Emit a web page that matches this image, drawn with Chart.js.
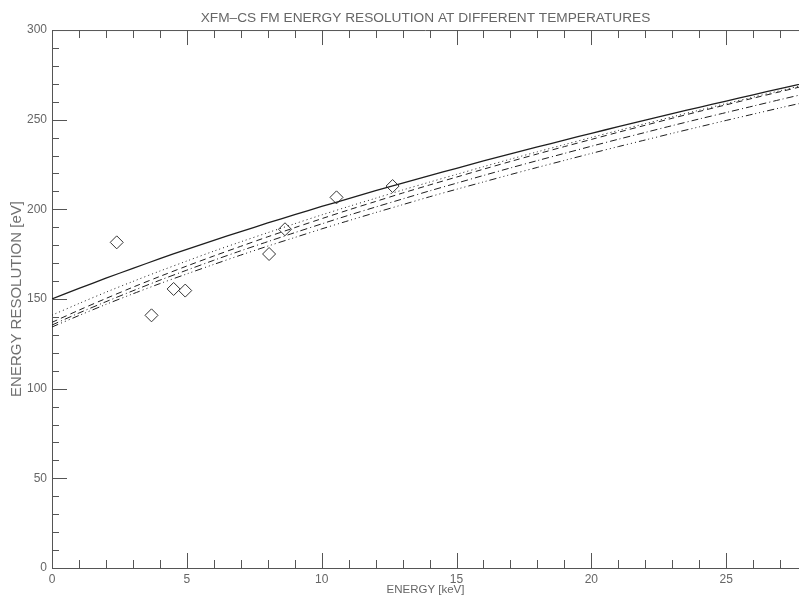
<!DOCTYPE html>
<html>
<head>
<meta charset="utf-8">
<script src="https://cdn.jsdelivr.net/npm/chart.js@4.4.1/dist/chart.umd.min.js"></script>
<style>
html,body{margin:0;padding:0;background:#fff;}
#wrap{width:799px;height:600px;}
</style>
</head>
<body>
<div id="wrap"><canvas id="c" width="799" height="600"></canvas></div>
<script>
// ---- data ----
const titleText = "XFM\u2013CS FM ENERGY RESOLUTION AT DIFFERENT TEMPERATURES";
const xTitle = "ENERGY [keV]";
const yTitle = "ENERGY RESOLUTION [eV]";

const energyGrid = [0,1,2,3,4,5,6,7,8,9,10,11,12,13,14,15,16,17,18,19,20,21,22,23,24,25,26,27,28];
const solidCurve   = [150.0,155.9,161.6,167.1,172.5,177.7,182.7,187.6,192.4,197.0,201.6,206.0,210.4,214.6,218.8,222.9,227.0,230.9,234.8,238.6,242.4,246.1,249.8,253.4,256.9,260.4,263.9,267.3,270.7];
const dottedCurve  = [141.0,147.5,153.8,159.8,165.6,171.2,176.7,181.9,187.0,192.0,196.9,201.6,206.2,210.8,215.2,219.5,223.8,228.0,232.1,236.1,240.1,244.0,247.8,251.6,255.3,259.0,262.6,266.2,269.7];
const dashedCurve  = [137.0,143.8,150.3,156.6,162.6,168.4,174.0,179.4,184.7,189.8,194.8,199.7,204.4,209.1,213.6,218.0,222.4,226.7,230.9,235.0,239.0,243.0,246.9,250.8,254.6,258.3,262.0,265.6,269.2];
const dashDotCurve = [135.5,142.2,148.5,154.6,160.5,166.1,171.6,176.9,182.0,187.0,191.9,196.7,201.3,205.8,210.3,214.6,218.9,223.1,227.2,231.2,235.2,239.1,242.9,246.7,250.4,254.0,257.6,261.2,264.7];
const dash3DotCurve= [134.4,140.8,147.0,152.9,158.6,164.0,169.3,174.5,179.5,184.3,189.1,193.7,198.2,202.6,207.0,211.2,215.3,219.4,223.4,227.3,231.2,235.0,238.7,242.4,246.0,249.6,253.1,256.6,260.0];

const measEnergy = [2.40,3.69,4.51,4.94,8.05,8.64,10.55,12.63];
const measRes    = [181.6,140.9,155.6,154.7,175.1,188.9,206.7,213.0];

const xMajorTicks = [0,5,10,15,20,25];
const yMajorTicks = [0,50,100,150,200,250,300];

// ---- styling ----
const LINE = '#1e1e1e';
const AXIS = '#555555';
const TEXT = '#666666';
const FONT = "'Liberation Sans', Arial, sans-serif";

function pts(xs, ys){ return xs.map((v,i)=>({x:v, y:ys[i]})); }

const inTicks = {
  id: 'inTicks',
  afterDatasetsDraw(chart){
    const {ctx, chartArea:a, scales:{x, y}} = chart;
    ctx.save();
    ctx.strokeStyle = AXIS;
    ctx.lineWidth = 1;
    ctx.beginPath();
    ctx.moveTo(a.left, a.top + 0.5);
    ctx.lineTo(a.right, a.top + 0.5);
    for (let v = 1; v <= x.max; v += 1){
      const px = Math.round(x.getPixelForValue(v)) + 0.5;
      const len = xMajorTicks.includes(v) ? 15 : 8;
      ctx.moveTo(px, a.bottom); ctx.lineTo(px, a.bottom - len);
      ctx.moveTo(px, a.top); ctx.lineTo(px, a.top + len);
    }
    for (let v = 10; v < y.max; v += 10){
      const py = Math.round(y.getPixelForValue(v)) + 0.5;
      const len = yMajorTicks.includes(v) ? 15 : 7;
      ctx.moveTo(a.left, py); ctx.lineTo(a.left + len, py);
    }
    ctx.stroke();
    ctx.restore();
  }
};

const curveStyle = (data, dash, w) => ({
  type: 'line', data, showLine: true, borderColor: LINE, borderWidth: w || 1,
  borderDash: dash, pointRadius: 0, fill: false, tension: 0.3
});

new Chart(document.getElementById('c'), {
  type: 'scatter',
  data: {
    datasets: [
      curveStyle(pts(energyGrid, solidCurve), [], 1.3),
      curveStyle(pts(energyGrid, dottedCurve), [1,3]),
      curveStyle(pts(energyGrid, dashedCurve), [6,4]),
      curveStyle(pts(energyGrid, dashDotCurve), [7,3,1,3]),
      curveStyle(pts(energyGrid, dash3DotCurve), [7,3,1,3,1,3,1,3]),
      {
        type: 'scatter', data: pts(measEnergy, measRes),
        pointStyle: 'rectRot', pointRadius: 6.5, pointBorderColor: '#333',
        pointBackgroundColor: 'rgba(0,0,0,0)', pointBorderWidth: 1, showLine: false
      }
    ]
  },
  options: {
    responsive: false,
    animation: false,
    layout: { padding: 0, autoPadding: false },
    plugins: {
      legend: { display: false },
      tooltip: { enabled: false },
      title: {
        display: true, text: titleText, color: TEXT, fullSize: false,
        font: { family: FONT, size: 13.7, weight: 'normal' },
        padding: { top: 10, bottom: 3.6 }
      }
    },
    scales: {
      x: {
        type: 'linear', min: 0, max: 27.7,
        afterFit(s){ s.height = 32; s.paddingLeft = 0; s.paddingRight = 0; },
        afterBuildTicks(s){ s.ticks = xMajorTicks.map(v => ({value: v})); },
        grid: { display: false, drawTicks: false },
        border: { display: true, color: AXIS, width: 1 },
        ticks: { color: TEXT, padding: 4, font: { family: FONT, size: 12 }, maxRotation: 0 },
        title: { display: true, text: xTitle, color: TEXT, padding: { top: 0, bottom: 3 },
                 font: { family: FONT, size: 11.5 } }
      },
      y: {
        type: 'linear', min: 0, max: 300,
        afterFit(s){ s.width = 52; s.paddingTop = 0; s.paddingBottom = 0; },
        afterBuildTicks(s){ s.ticks = yMajorTicks.map(v => ({value: v})); },
        grid: { display: false, drawTicks: false },
        border: { display: true, color: AXIS, width: 1 },
        ticks: { color: TEXT, padding: 5, font: { family: FONT, size: 12 } },
        title: { display: true, text: yTitle, color: '#707070', padding: { top: 8, bottom: 0 },
                 font: { family: FONT, size: 15 } }
      }
    }
  },
  plugins: [inTicks]
});
</script>
</body>
</html>
